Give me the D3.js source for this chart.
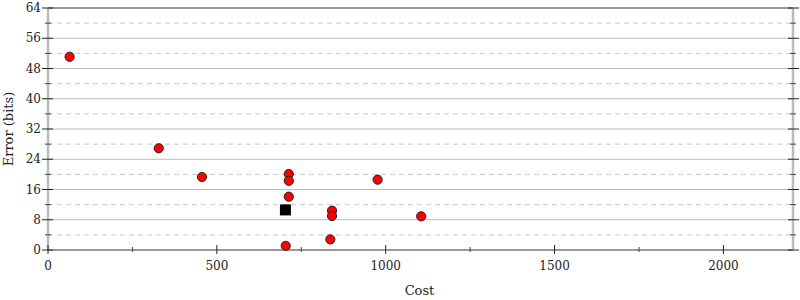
<!DOCTYPE html>
<html>
<head>
<meta charset="utf-8">
<script src="https://cdn.jsdelivr.net/npm/d3@7"></script>
<style>
  body { margin: 0; background: #fff; }
  text { font-family: "DejaVu Serif", serif; fill: #222; }
</style>
</head>
<body>
<div id="chart-area"></div>
<script>
// data
const costs  = [64, 328, 456, 713, 713, 713, 704, 841, 841, 836, 976, 1105]
const errors = [51.1, 26.9, 19.3, 20.1, 18.3, 14.1, 1.1, 10.4, 9.0, 2.8, 18.6, 8.9]
const bestCost = [703]
const bestError = [10.6]
const xMajorTicks = [0, 500, 1000, 1500, 2000]
const xMinorTicks = [250, 750, 1250, 1750]
const yMajorTicks = [0, 8, 16, 24, 32, 40, 48, 56, 64]
const yMinorTicks = [4, 12, 20, 28, 36, 44, 52, 60]

const W = 800, H = 300
const MARGIN = { LEFT: 48, RIGHT: 7, TOP: 8, BOTTOM: 50 }
const WIDTH = W - MARGIN.LEFT - MARGIN.RIGHT
const HEIGHT = H - MARGIN.TOP - MARGIN.BOTTOM

const svg = d3.select("#chart-area").append("svg")
  .attr("width", W)
  .attr("height", H)

const g = svg.append("g")
  .attr("transform", `translate(${MARGIN.LEFT}, ${MARGIN.TOP})`)

const x = d3.scaleLinear().domain([0, 2206]).range([0, WIDTH])
const y = d3.scaleLinear().domain([0, 64]).range([HEIGHT, 0])

// grid lines
g.append("g").selectAll("line").data(yMinorTicks).enter().append("line")
  .attr("x1", 0).attr("x2", WIDTH)
  .attr("y1", d => y(d)).attr("y2", d => y(d))
  .attr("stroke", "#c8c8c8").attr("stroke-dasharray", "5,4")
g.append("g").selectAll("line").data(yMajorTicks.filter(d => d > 0 && d < 64)).enter().append("line")
  .attr("x1", 0).attr("x2", WIDTH)
  .attr("y1", d => y(d)).attr("y2", d => y(d))
  .attr("stroke", "#bbb")

// frame
g.append("line").attr("x1", 0).attr("x2", WIDTH).attr("y1", y(64)).attr("y2", y(64))
  .attr("stroke", "#999").attr("stroke-width", 2)
g.append("line").attr("x1", 0).attr("x2", WIDTH).attr("y1", y(0)).attr("y2", y(0))
  .attr("stroke", "#999").attr("stroke-width", 2)
g.append("line").attr("x1", 0).attr("x2", 0).attr("y1", 0).attr("y2", HEIGHT)
  .attr("stroke", "#bbb").attr("stroke-width", 2.5)
g.append("line").attr("x1", WIDTH).attr("x2", WIDTH).attr("y1", 0).attr("y2", HEIGHT)
  .attr("stroke", "#bbb").attr("stroke-width", 2.5)

// X axis
const xAxis = g.append("g").attr("transform", `translate(0, ${HEIGHT})`)
xAxis.selectAll(".major").data(xMajorTicks).enter().append("line")
  .attr("x1", d => x(d)).attr("x2", d => x(d)).attr("y1", -5).attr("y2", 4)
  .attr("stroke", "#222").attr("stroke-width", 1)
xAxis.selectAll(".minor").data(xMinorTicks).enter().append("line")
  .attr("x1", d => x(d)).attr("x2", d => x(d)).attr("y1", -3).attr("y2", 2)
  .attr("stroke", "#444").attr("stroke-width", 1)
xAxis.selectAll("text").data(xMajorTicks).enter().append("text")
  .attr("x", d => x(d)).attr("y", 20)
  .attr("text-anchor", "middle").attr("font-size", "12px")
  .text(d => d)

// Y axis, left and right
const yAxis = g.append("g")
yAxis.selectAll(".majorL").data(yMajorTicks).enter().append("line")
  .attr("x1", -6).attr("x2", 5).attr("y1", d => y(d)).attr("y2", d => y(d))
  .attr("stroke", "#222")
yAxis.selectAll(".minorL").data(yMinorTicks).enter().append("line")
  .attr("x1", -3).attr("x2", 3).attr("y1", d => y(d)).attr("y2", d => y(d))
  .attr("stroke", "#444")
yAxis.selectAll(".majorR").data(yMajorTicks).enter().append("line")
  .attr("x1", WIDTH - 5).attr("x2", WIDTH + 6).attr("y1", d => y(d)).attr("y2", d => y(d))
  .attr("stroke", "#222")
yAxis.selectAll(".minorR").data(yMinorTicks).enter().append("line")
  .attr("x1", WIDTH - 3).attr("x2", WIDTH + 3).attr("y1", d => y(d)).attr("y2", d => y(d))
  .attr("stroke", "#444")
yAxis.selectAll("text").data(yMajorTicks).enter().append("text")
  .attr("x", -7).attr("y", d => y(d)).attr("dy", "0.35em")
  .attr("text-anchor", "end").attr("font-size", "12px")
  .text(d => d)

// Labels
svg.append("text")
  .attr("x", MARGIN.LEFT + x(1100)).attr("y", 295)
  .attr("text-anchor", "middle").attr("font-size", "13px")
  .text("Cost")
svg.append("text")
  .attr("transform", `translate(13, ${MARGIN.TOP + HEIGHT / 2}) rotate(-90)`)
  .attr("text-anchor", "middle").attr("font-size", "13px")
  .text("Error (bits)")

// points
const points = costs.map((c, i) => ({ cost: c, error: errors[i] }))
g.selectAll("circle").data(points).enter().append("circle")
  .attr("cx", d => x(d.cost)).attr("cy", d => y(d.error)).attr("r", 4.6)
  .attr("fill", "#f00").attr("stroke", "#222").attr("stroke-width", 1)

const best = bestCost.map((c, i) => ({ cost: c, error: bestError[i] }))
g.selectAll(".best").data(best).enter().append("rect")
  .attr("class", "best")
  .attr("x", d => x(d.cost) - 5.5).attr("y", d => y(d.error) - 5.5)
  .attr("width", 11).attr("height", 11)
  .attr("fill", "#000")
</script>
</body>
</html>
